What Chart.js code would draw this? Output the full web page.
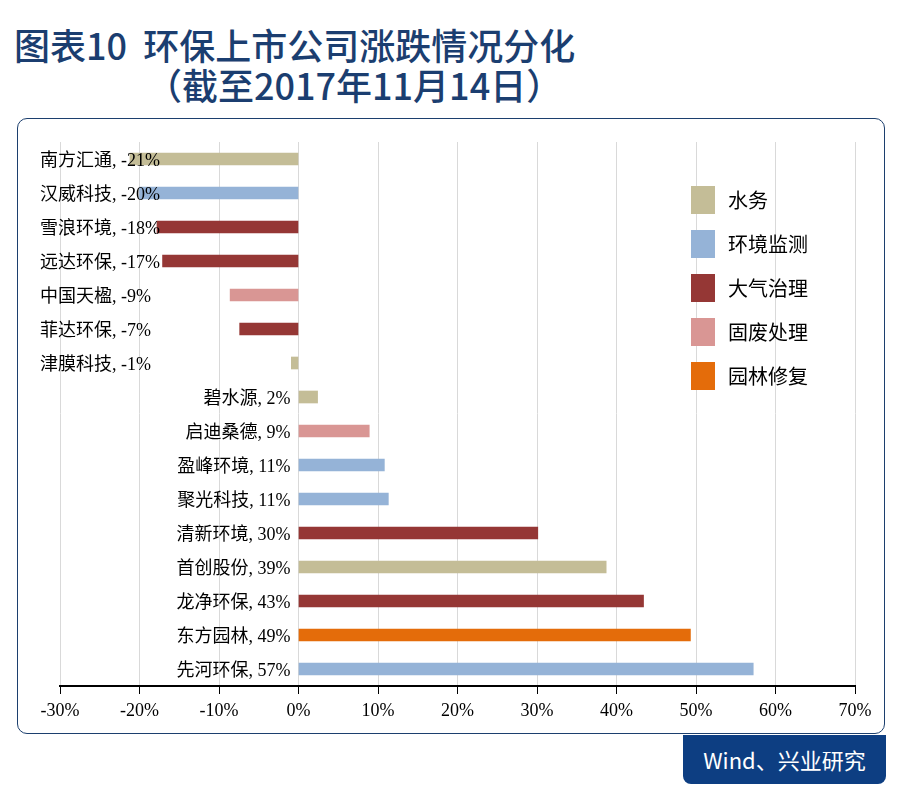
<!DOCTYPE html>
<html>
<head>
<meta charset="utf-8">
<script src="https://cdn.jsdelivr.net/npm/chart.js@4"></script>
<style>
  body { margin: 0; background: #fff; width: 905px; height: 796px; position: relative; overflow: hidden; }
  .title { position: absolute; color: #1b3e70; font-family: "Noto Sans CJK SC", sans-serif; font-weight: 500; font-size: 36px; white-space: nowrap; line-height: 1; }
  .box { position: absolute; left: 17px; top: 118px; width: 866px; height: 614px; border: 1.5px solid #1c3f6e; border-radius: 10px; background: #fff; }
  .tab { position: absolute; left: 683px; top: 735px; width: 203px; height: 49px; background: #0d3e82; border-radius: 0 0 8px 8px;
         color: #fff; font-family: "Noto Sans CJK SC", sans-serif; font-size: 22px; line-height: 49px; text-align: center; }
  #wrap { position: absolute; left: 0; top: 0; width: 905px; height: 796px; }
</style>
</head>
<body>
<div class="title" style="left:14px; top:26px;">图表10&nbsp;&nbsp;环保上市公司涨跌情况分化</div>
<div class="title" style="left:146px; top:66px;">（截至2017年11月14日）</div>
<div class="box"></div>
<div class="tab">Wind、兴业研究</div>
<div id="wrap"><canvas id="barChart"></canvas></div>

<script>
// companies, top to bottom
const companies = ['南方汇通', '汉威科技', '雪浪环境', '远达环保', '中国天楹', '菲达环保', '津膜科技',
                   '碧水源', '启迪桑德', '盈峰环境', '聚光科技', '清新环境', '首创股份', '龙净环保', '东方园林', '先河环保'];
// change in %
const changes = [-21.2, -20.0, -17.8, -17.1, -8.6, -7.4, -0.9,
                 2.4, 8.9, 10.8, 11.3, 30.1, 38.7, 43.4, 49.3, 57.2];
// sector index of each company
const sectorOf = [0, 1, 2, 2, 3, 2, 0,
                  0, 3, 1, 1, 2, 0, 2, 4, 1];
const sectors = ['水务', '环境监测', '大气治理', '固废处理', '园林修复'];
const sectorColors = ['#c4bd97', '#95b3d7', '#953735', '#d99694', '#e46c0a'];
const xTicks = [-30, -20, -10, 0, 10, 20, 30, 40, 50, 60, 70];

const labelFont = '18px "Liberation Serif", "Noto Sans CJK SC", serif';

// data labels beside the zero line / at the left edge
const barLabels = {
    id: 'barLabels',
    afterDatasetsDraw(chart) {
        const ctx = chart.ctx;
        const x = chart.scales.x;
        const meta = chart.getDatasetMeta(0);
        ctx.save();
        ctx.font = labelFont;
        ctx.fillStyle = '#000';
        ctx.textBaseline = 'middle';
        meta.data.forEach((bar, i) => {
            const txt = companies[i] + ', ' + Math.round(changes[i]) + '%';
            if (changes[i] < 0) {
                ctx.textAlign = 'left';
                ctx.fillText(txt, 40, bar.y + 2);
            } else {
                ctx.textAlign = 'right';
                ctx.fillText(txt, x.getPixelForValue(0) - 8, bar.y + 2);
            }
        });
        ctx.restore();
    }
};

// legend drawn as a column of squares
const sectorLegend = {
    id: 'sectorLegend',
    afterDraw(chart) {
        const ctx = chart.ctx;
        ctx.save();
        ctx.font = '20px "Noto Sans CJK SC", serif';
        ctx.textBaseline = 'middle';
        ctx.textAlign = 'left';
        sectors.forEach((s, i) => {
            const y = 200 + i * 44;
            ctx.fillStyle = sectorColors[i];
            ctx.fillRect(691, y - 14, 24, 28);
            ctx.fillStyle = '#000';
            ctx.fillText(s, 728, y);
        });
        ctx.restore();
    }
};

const myBarChart = new Chart(document.getElementById('barChart'), {
    type: 'bar',
    data: {
        labels: companies,
        datasets: [{
            data: changes,
            backgroundColor: sectorOf.map(k => sectorColors[k]),
            barThickness: 12
        }]
    },
    plugins: [barLabels, sectorLegend],
    options: {
        indexAxis: 'y',
        responsive: true,
        maintainAspectRatio: false,
        animation: false,
        layout: { padding: { left: 60, right: 50, top: 142, bottom: 70 } },
        scales: {
            x: {
                min: -30,
                max: 70,
                afterBuildTicks: s => { s.ticks = xTicks.map(v => ({ value: v })); },
                afterFit: s => { s.height = 40; },
                grid: { color: '#d9d9d9', tickColor: '#000', tickLength: 8, lineWidth: 1 },
                border: { color: '#000', width: 2 },
                ticks: {
                    color: '#000',
                    padding: 6,
                    font: { family: '"Liberation Serif", serif', size: 18 },
                    callback: v => v + '%'
                }
            },
            y: { display: false }
        },
        plugins: {
            legend: { display: false },
            tooltip: { enabled: false }
        }
    }
});
</script>
</body>
</html>
